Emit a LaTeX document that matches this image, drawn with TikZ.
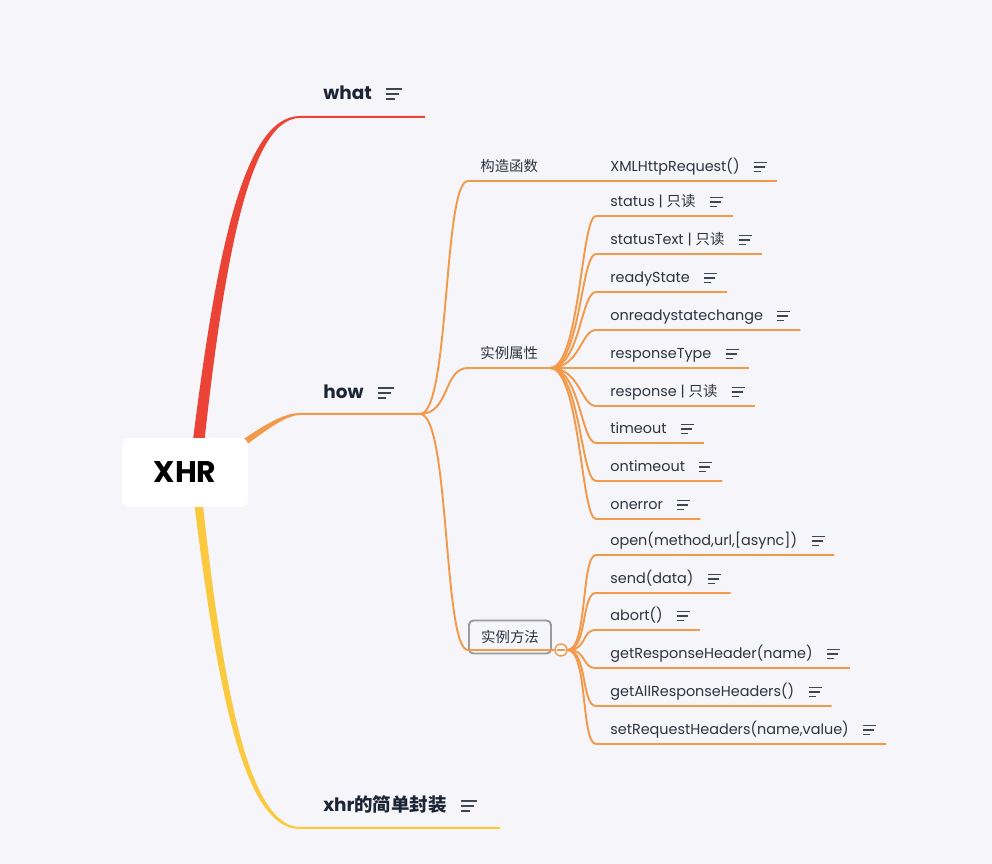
\documentclass[tikz,border=0pt]{standalone}
\usepackage{fontspec}
\setmainfont{Poppins}
\newfontfamily\cjk{Noto Sans CJK SC}
\usetikzlibrary{calc, backgrounds}
\definecolor{canvas}{HTML}{F6F6FA}
\definecolor{redbr}{HTML}{EB4436}
\definecolor{orangebr}{HTML}{F2994A}
\definecolor{yellowbr}{HTML}{FBC93D}
\definecolor{ink}{HTML}{1C2536}
\definecolor{leafink}{HTML}{2E3340}
\definecolor{boxgray}{HTML}{9B9B9B}

\begin{document}
\begin{tikzpicture}[
        x=0.02cm, y=-0.02cm,
        root/.style={fill=white, rounded corners=4pt, minimum width=2.52cm, minimum height=1.38cm, font=\fontsize{17}{20}\selectfont\bfseries, text=black},
        topic/.style={anchor=base west, inner sep=0pt, font=\fontsize{10.5}{12}\selectfont\bfseries, text=ink},
        sub/.style={anchor=base west, inner sep=0pt, font=\fontsize{8.2}{10}\selectfont, text=leafink},
        leaf/.style={sub},
        subbox/.style={draw=boxgray, line width=1.1pt, rounded corners=2.5pt, minimum width=1.64cm, minimum height=0.66cm, font=\fontsize{8.2}{10}\selectfont\cjk, text=leafink},
        branch/.style={draw=orangebr, line width=1.1pt},
        fold/.style={circle, draw=orangebr, fill=white, line width=0.8pt, minimum size=0.24cm, inner sep=0pt},
        notes/.pic={\draw[ink!85, line width=0.7pt] (0,-9.2) -- (13,-9.2) (0,-5) -- (11,-5) (0,-0.8) -- (7,-0.8);}
    ]
    \useasboundingbox (0,0) rectangle (992,864);

    \node[root] (xhr) at (185,472.5) {XHR};
    \coordinate (hub) at ($(xhr.center)+(10,0)$);

    \node[topic] (what) at (323,100) {what};
    \node[topic] (how) at (323,399) {how};
    \node[topic] (wrap) at (323,812) {xhr{\cjk 的简单封装}};
    \pic[scale=1.2] at ([xshift=8pt]what.base east) {notes};
    \pic[scale=1.2] at ([xshift=8pt]how.base east) {notes};
    \pic[scale=1.2] at ([xshift=8pt]wrap.base east) {notes};

    \coordinate (what-s) at (300,117);
    \coordinate (what-e) at (425,117);
    \coordinate (how-s) at (300,414);
    \coordinate (how-e) at (420,414);
    \coordinate (wrap-s) at (300,828);
    \coordinate (wrap-e) at (500,828);

    \begin{scope}[on background layer]
        \fill[canvas] (0,0) rectangle (992,864);
        \fill[redbr] ($(hub)+(-6,0)$) .. controls +(24,-200) and +(-60,0) .. ($(what-s)+(0,-1)$) -- ($(what-e)+(0,-1)$) -- ($(what-e)+(0,1)$) -- ($(what-s)+(0,1)$) .. controls +(-54,0) and +(20,-190) .. ($(hub)+(6,0)$) -- cycle;
        \fill[yellowbr] ($(hub)+(-4.5,0)$) .. controls +(24,200) and +(-60,0) .. ($(wrap-s)+(0,1)$) -- ($(wrap-e)+(0,1)$) -- ($(wrap-e)+(0,-1)$) -- ($(wrap-s)+(0,-1)$) .. controls +(-55,0) and +(20,193) .. ($(hub)+(4.5,0)$) -- cycle;
        \fill[orangebr] ($(hub)+(0,-3.5)$) .. controls +(40,-20) and +(-28,0) .. ($(how-s)+(0,-1)$) -- ($(how-e)+(0,-1)$) -- ($(how-e)+(0,1)$) -- ($(how-s)+(0,1)$) .. controls +(-24,0) and +(40,-16) .. ($(hub)+(0,3.5)$) -- cycle;
    \end{scope}

    \node[sub] (ctor) at (480,172) {\cjk 构造函数};
    \node[sub] (attr) at (480,359) {\cjk 实例属性};
    \node[subbox] (method) at (510,637) {实例方法};
    \node[fold] (fold) at (561,650) {};
    \draw[orangebr, line width=0.8pt] ($(fold.center)+(-4,0)$) -- ($(fold.center)+(4,0)$);
    \coordinate (ctor-s) at (468,181);
    \coordinate (attr-s) at (468,368);
    \coordinate (attr-e) at (550,368);
    \coordinate (method-s) at (468,650);

    \node[leaf] (xmlhr) at (610,172) {XMLHttpRequest()};
    \node[leaf] (status) at (610,207) {status | {\cjk 只读}};
    \node[leaf] (statustext) at (610,245) {statusText | {\cjk 只读}};
    \node[leaf] (readystate) at (610,283) {readyState};
    \node[leaf] (onchange) at (610,321) {onreadystatechange};
    \node[leaf] (resptype) at (610,359) {responseType};
    \node[leaf] (response) at (610,397) {response | {\cjk 只读}};
    \node[leaf] (timeout) at (610,434) {timeout};
    \node[leaf] (ontimeout) at (610,472) {ontimeout};
    \node[leaf] (onerror) at (610,510) {onerror};
    \node[leaf] (open) at (610,546) {open(method,url,[async])};
    \node[leaf] (send) at (610,584) {send(data)};
    \node[leaf] (abort) at (610,621) {abort()};
    \node[leaf] (getresp) at (610,659) {getResponseHeader(name)};
    \node[leaf] (getall) at (610,697) {getAllResponseHeaders()};
    \node[leaf] (setreq) at (610,735) {setRequestHeaders(name,value)};

    \pic at ([xshift=8pt]xmlhr.base east) {notes};
    \pic at ([xshift=8pt]status.base east) {notes};
    \pic at ([xshift=8pt]statustext.base east) {notes};
    \pic at ([xshift=8pt]readystate.base east) {notes};
    \pic at ([xshift=8pt]onchange.base east) {notes};
    \pic at ([xshift=8pt]resptype.base east) {notes};
    \pic at ([xshift=8pt]response.base east) {notes};
    \pic at ([xshift=8pt]timeout.base east) {notes};
    \pic at ([xshift=8pt]ontimeout.base east) {notes};
    \pic at ([xshift=8pt]onerror.base east) {notes};
    \pic at ([xshift=8pt]open.base east) {notes};
    \pic at ([xshift=8pt]send.base east) {notes};
    \pic at ([xshift=8pt]abort.base east) {notes};
    \pic at ([xshift=8pt]getresp.base east) {notes};
    \pic at ([xshift=8pt]getall.base east) {notes};
    \pic at ([xshift=8pt]setreq.base east) {notes};

    \draw[branch] (how-e) .. controls +(30,0) and +(-25,0) .. (ctor-s) -- ($(xmlhr.base east)+(37,9)$);
    \draw[branch] (how-e) .. controls +(30,0) and +(-25,0) .. (attr-s) -- (attr-e);
    \draw[branch] (how-e) .. controls +(30,0) and +(-25,0) .. (method-s) -- (fold);

    \draw[branch] (attr-e) .. controls +(30,0) and +(-15,0) .. ($(status.base west)+(-14,9)$) -- ($(status.base east)+(37,9)$);
    \draw[branch] (attr-e) .. controls +(30,0) and +(-15,0) .. ($(statustext.base west)+(-14,9)$) -- ($(statustext.base east)+(37,9)$);
    \draw[branch] (attr-e) .. controls +(30,0) and +(-15,0) .. ($(readystate.base west)+(-14,9)$) -- ($(readystate.base east)+(37,9)$);
    \draw[branch] (attr-e) .. controls +(30,0) and +(-15,0) .. ($(onchange.base west)+(-14,9)$) -- ($(onchange.base east)+(37,9)$);
    \draw[branch] (attr-e) .. controls +(30,0) and +(-15,0) .. ($(resptype.base west)+(-14,9)$) -- ($(resptype.base east)+(37,9)$);
    \draw[branch] (attr-e) .. controls +(30,0) and +(-15,0) .. ($(response.base west)+(-14,9)$) -- ($(response.base east)+(37,9)$);
    \draw[branch] (attr-e) .. controls +(30,0) and +(-15,0) .. ($(timeout.base west)+(-14,9)$) -- ($(timeout.base east)+(37,9)$);
    \draw[branch] (attr-e) .. controls +(30,0) and +(-15,0) .. ($(ontimeout.base west)+(-14,9)$) -- ($(ontimeout.base east)+(37,9)$);
    \draw[branch] (attr-e) .. controls +(30,0) and +(-15,0) .. ($(onerror.base west)+(-14,9)$) -- ($(onerror.base east)+(37,9)$);

    \draw[branch] (fold.east) .. controls +(20,0) and +(-15,0) .. ($(open.base west)+(-14,9)$) -- ($(open.base east)+(37,9)$);
    \draw[branch] (fold.east) .. controls +(20,0) and +(-15,0) .. ($(send.base west)+(-14,9)$) -- ($(send.base east)+(37,9)$);
    \draw[branch] (fold.east) .. controls +(20,0) and +(-15,0) .. ($(abort.base west)+(-14,9)$) -- ($(abort.base east)+(37,9)$);
    \draw[branch] (fold.east) .. controls +(20,0) and +(-15,0) .. ($(getresp.base west)+(-14,9)$) -- ($(getresp.base east)+(37,9)$);
    \draw[branch] (fold.east) .. controls +(20,0) and +(-15,0) .. ($(getall.base west)+(-14,9)$) -- ($(getall.base east)+(37,9)$);
    \draw[branch] (fold.east) .. controls +(20,0) and +(-15,0) .. ($(setreq.base west)+(-14,9)$) -- ($(setreq.base east)+(37,9)$);
\end{tikzpicture}
\end{document}
